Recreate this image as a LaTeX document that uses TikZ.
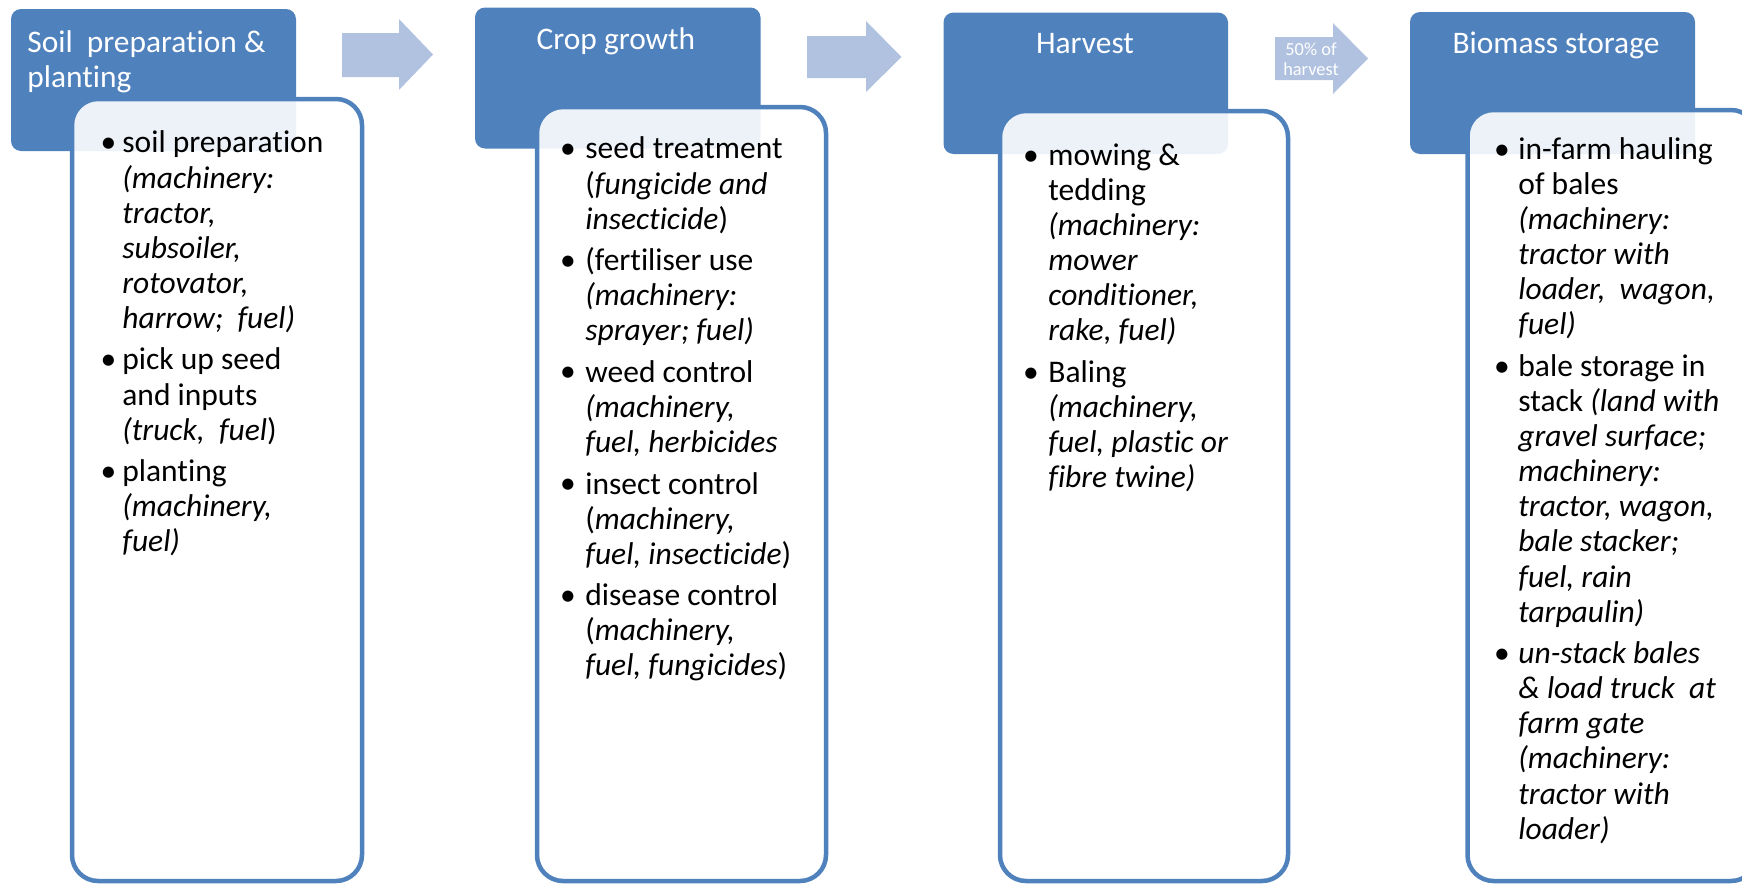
\documentclass[tikz,border=0pt]{standalone}
\usepackage{fontspec}
\setmainfont{Carlito}[Ligatures={NoCommon}]
\definecolor{hdr}{RGB}{79,129,189}
\definecolor{arr}{RGB}{176,194,224}
\newcommand\bodyfnt{\fontsize{15.75}{17.55}\selectfont}
\newcommand\hdrfnt{\fontsize{15.7}{17.75}\selectfont}
\begin{document}
\begin{tikzpicture}[x=0.5pt,y=-0.5pt,
  hdrbox/.style={fill=hdr, rounded corners=5pt},
  listbox/.style={draw=hdr, line width=2.25pt, fill=white, fill opacity=0.9, rounded corners=13pt},
  blockarrow/.style={fill=arr},
  itemtxt/.style={anchor=north west, inner sep=0pt, align=left, font=\bodyfnt, yshift=12.285pt},
  bul/.style={anchor=base, inner sep=0pt, font=\bodyfnt},
  hdrtxt/.style={anchor=base, inner sep=0pt, text=white, font=\hdrfnt}]
\useasboundingbox (0,0) rectangle (1742,884);
\clip (0,0) rectangle (1742,884);

% headers
\fill[hdrbox] (11,9) rectangle (296,151);
\fill[hdrbox] (475,7.5) rectangle (760.5,148.5);
\fill[hdrbox] (943.5,12.5) rectangle (1228,154);
\fill[hdrbox] (1410,12) rectangle (1695,154);

% list boxes
\path[listbox] (72,99) rectangle (362,881);
\path[listbox] (537,107) rectangle (826,881);
\path[listbox] (1000,111) rectangle (1288,881);
\path[listbox] (1467.5,110) rectangle (1757,881);

% block arrows
\fill[blockarrow] (342,33) -- (399,33) -- (399,19) -- (433,54.5) -- (399,90) -- (399,77) -- (342,77) -- cycle;
\fill[blockarrow] (807,36) -- (866,36) -- (866,21) -- (901.5,57) -- (866,92) -- (866,78) -- (807,78) -- cycle;
\fill[blockarrow] (1275,37) -- (1333,37) -- (1333,23) -- (1368,58.5) -- (1333,94) -- (1333,80) -- (1275,80) -- cycle;
\node[align=center, text=white, font=\fontsize{9.2}{10}\selectfont, anchor=north, inner sep=0pt, yshift=7pt] (a3t) at (1311,55) {\strut 50\% of\\harvest};

% header texts
\node[anchor=north west, inner sep=0pt, align=left, text=white, font=\hdrfnt, yshift=12.425pt] (h1t) at (27,51.7) {\strut Soil\ \ preparation \&\\planting};
\node[hdrtxt] (h2t) at (616,49) {Crop growth};
\node[hdrtxt] (h3t) at (1085,53) {Harvest};
\node[hdrtxt] (h4t) at (1556,53) {Biomass storage};

% box 1
\node[bul] (b1a) at (108.5,152.5) {•};
\node[itemtxt] (t1a) at (122,152.5) {\strut soil preparation\\\textit{(machinery:}\\\textit{tractor,}\\\textit{subsoiler,}\\\textit{rotovator,}\\\textit{harrow;\ \ fuel)}};
\node[bul] (b1b) at (108.5,369.5) {•};
\node[itemtxt] (t1b) at (122,369.5) {\strut pick up seed\\and inputs\\\textit{(truck,\ \ fuel})};
\node[bul] (b1c) at (108.5,481.2) {•};
\node[itemtxt] (t1c) at (122,481.2) {\strut planting\\\textit{(machinery,}\\\textit{fuel)}};

% box 2
\node[bul] (b2a) at (568,158.5) {•};
\node[itemtxt] (t2a) at (585,158.5) {\strut seed treatment\\(\textit{fungicide and}\\\textit{insecticide})};
\node[bul] (b2b) at (568,270.2) {•};
\node[itemtxt] (t2b) at (585,270.2) {\strut (fertiliser use\\\textit{(machinery:}\\\textit{sprayer; fuel)}};
\node[bul] (b2c) at (568,381.9) {•};
\node[itemtxt] (t2c) at (585,381.9) {\strut weed control\\\textit{(machinery,}\\\textit{fuel, herbicides}};
\node[bul] (b2d) at (568,493.6) {•};
\node[itemtxt] (t2d) at (585,493.6) {\strut insect control\\(\textit{machinery,}\\\textit{fuel, insecticide})};
\node[bul] (b2e) at (568,605.3) {•};
\node[itemtxt] (t2e) at (585,605.3) {\strut disease control\\(\textit{machinery,}\\\textit{fuel, fungicides})};

% box 3
\node[bul] (b3a) at (1031,165) {•};
\node[itemtxt] (t3a) at (1048,165) {\strut mowing \&\\tedding\\\textit{(machinery:}\\\textit{mower}\\\textit{conditioner,}\\\textit{rake, fuel)}};
\node[bul] (b3b) at (1031,382) {•};
\node[itemtxt] (t3b) at (1048,382) {\strut Baling\\\textit{(machinery,}\\\textit{fuel, plastic or}\\\textit{fibre twine)}};

% box 4
\node[bul] (b4a) at (1502,159) {•};
\node[itemtxt] (t4a) at (1518,159) {\strut in-farm hauling\\of bales\\\textit{(machinery:}\\\textit{tractor with}\\\textit{loader,\ \ wagon,}\\\textit{fuel)}};
\node[bul] (b4b) at (1502,376) {•};
\node[itemtxt] (t4b) at (1518,376) {\strut bale storage in\\stack \textit{(land with}\\\textit{gravel surface;}\\\textit{machinery:}\\\textit{tractor, wagon,}\\\textit{bale stacker;}\\\textit{fuel, rain}\\\textit{tarpaulin)}};
\node[bul] (b4c) at (1502,663.2) {•};
\node[itemtxt] (t4c) at (1518,663.2) {\strut\textit{un-stack bales}\\\textit{\& load truck\ \ at}\\\textit{farm gate}\\\textit{(machinery:}\\\textit{tractor with}\\\textit{loader)}};
\end{tikzpicture}
\end{document}
